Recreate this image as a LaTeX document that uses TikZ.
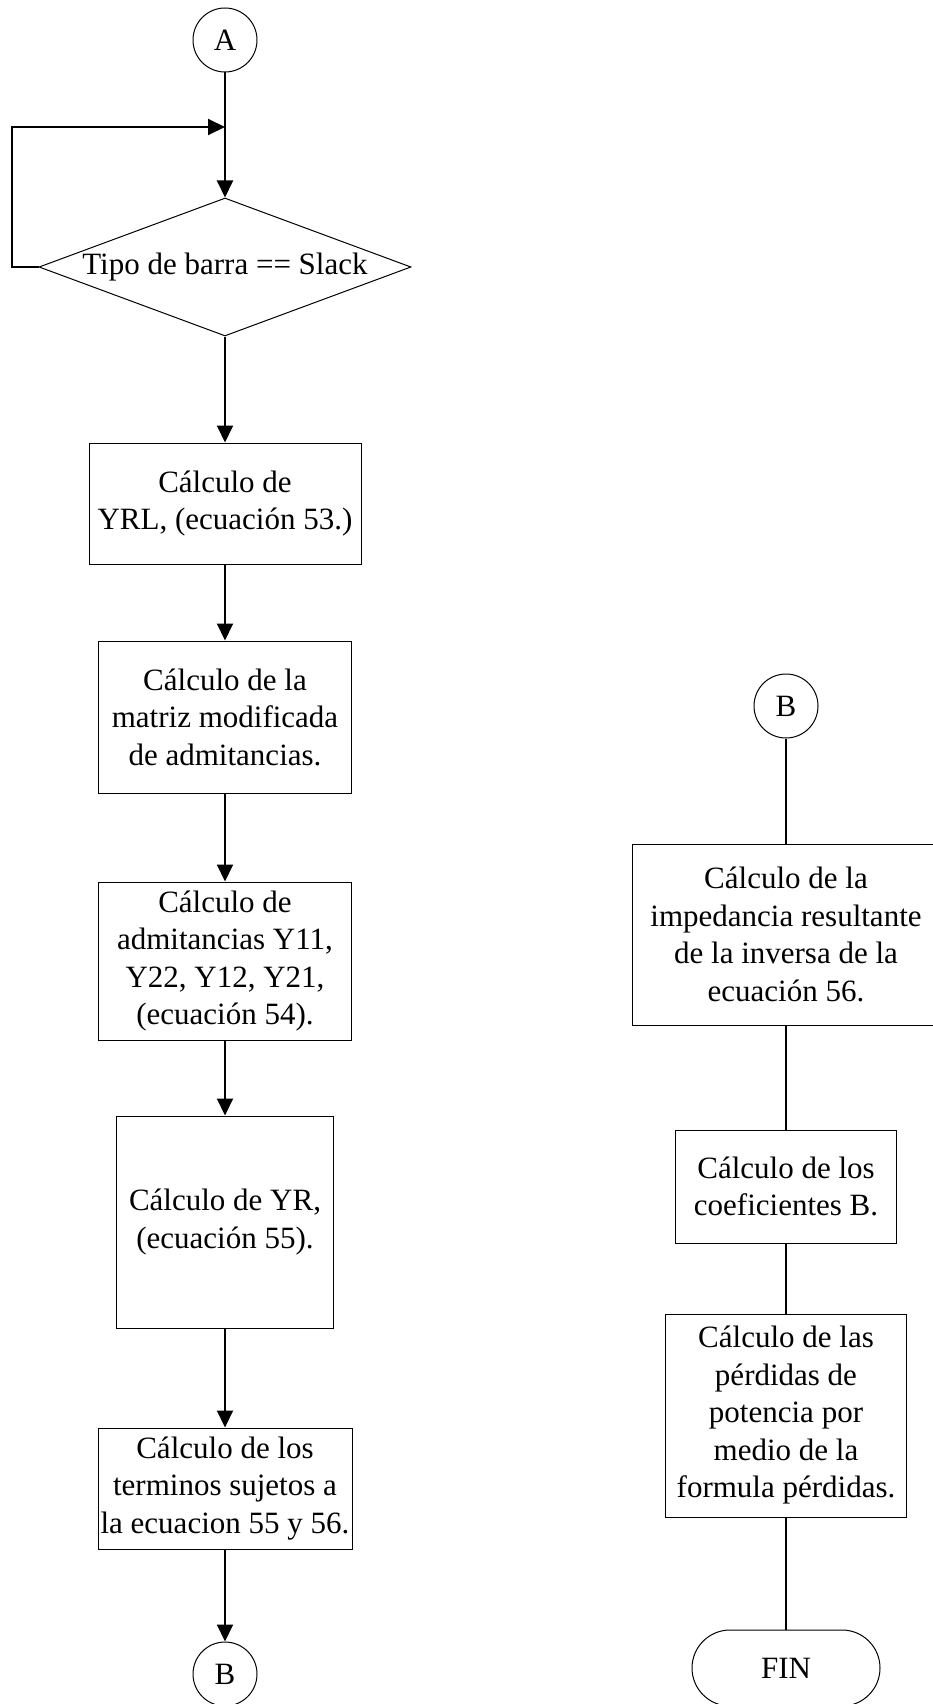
\documentclass[tikz,border=0pt]{standalone}
\usepackage{fontspec}
\setmainfont{Liberation Serif}
\usetikzlibrary{shapes.geometric,arrows.meta}
\begin{document}
\begin{tikzpicture}[x=1pt,y=-1pt,
  every node/.style={font=\fontsize{31}{37.5}\selectfont, align=center, inner sep=0pt},
  procbox/.style={draw, line width=1pt, rectangle},
  conn/.style={draw, circle, line width=1pt, minimum size=64pt},
  arr/.style={line width=2pt, -{Triangle[length=17pt,width=16pt]}},
  plain/.style={line width=1.2pt}]
\useasboundingbox (0,0) rectangle (932,1704);
% left column
\node[conn] (A) at (225,40) {A};
\node[draw, line width=1pt, diamond, aspect=2.7, minimum width=372pt, minimum height=138pt] (dia) at (225,267) {Tipo de barra == Slack};
\coordinate (jn) at (225,127);
\coordinate (lp) at (12,127);
\node[procbox, minimum width=272pt, minimum height=121pt] (b1) at (225,503.5) {Cálculo de\\YRL, (ecuación 53.)};
\node[procbox, minimum width=253pt, minimum height=152pt] (b2) at (225,717) {Cálculo de la\\matriz modificada\\de admitancias.};
\node[procbox, minimum width=253pt, minimum height=158pt] (b3) at (225,961) {Cálculo de\\admitancias Y11,\\Y22, Y12, Y21,\\(ecuación 54).};
\node[procbox, minimum width=217pt, minimum height=212pt] (b4) at (225,1222) {Cálculo de YR,\\(ecuación 55).};
\node[procbox, minimum width=254pt, minimum height=121pt] (b5) at (225,1488.5) {Cálculo de los\\terminos sujetos a\\la ecuacion 55 y 56.};
\node[conn] (B1) at (225,1674) {B};
\draw[arr] (A) -- (dia);
\draw[arr] (dia.west) -| (lp) -- (jn);
\draw[arr] (dia) -- (b1);
\draw[arr] (b1) -- (b2);
\draw[arr] (b2) -- (b3);
\draw[arr] (b3) -- (b4);
\draw[arr] (b4) -- (b5);
\draw[arr] (b5) -- (B1);
% right column
\node[conn] (B2) at (786,706) {B};
\node[procbox, minimum width=308pt, minimum height=181pt] (r1) at (786,934.5) {Cálculo de la\\impedancia resultante\\de la inversa de la\\ecuación 56.};
\node[procbox, minimum width=221pt, minimum height=113pt] (r2) at (786,1186.5) {Cálculo de los\\coeficientes B.};
\node[procbox, minimum width=241pt, minimum height=203pt] (r3) at (786,1415.5) {Cálculo de las\\pérdidas de\\potencia por\\medio de la\\formula pérdidas.};
\node[draw, line width=1pt, rectangle, rounded corners=38pt, minimum width=188pt, minimum height=76pt] (fin) at (786,1668) {FIN};
\draw[plain] (B2) -- (r1);
\draw[plain] (r1) -- (r2);
\draw[plain] (r2) -- (r3);
\draw[plain] (r3) -- (fin);
\end{tikzpicture}
\end{document}
